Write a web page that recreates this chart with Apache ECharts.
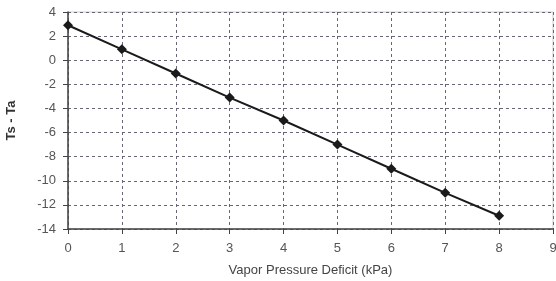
<!DOCTYPE html>
<html><head><meta charset="utf-8">
<script src="https://cdn.jsdelivr.net/npm/echarts@6/dist/echarts.min.js"></script>
<style>html,body{margin:0;padding:0;background:#fff}#c{width:556px;height:281px}</style>
</head><body><div id="c"></div>
<script>
const vpd = [0, 1, 2, 3, 4, 5, 6, 7, 8];
const tsTa = [2.9, 0.9, -1.1, -3.1, -5.0, -7.0, -9.0, -11.0, -12.9];
const xTitle = 'Vapor Pressure Deficit (kPa)';
const yTitle = 'Ts - Ta';

const chart = echarts.init(document.getElementById('c'));
const lbl = {color: '#555', fontSize: 13, fontFamily: 'Liberation Sans, Arial, sans-serif'};
chart.setOption({
  animation: false,
  grid: {left: 68, right: 3, top: 12, bottom: 52, show: true, borderColor: '#ccc', borderWidth: 1,
         containLabel: false, outerBoundsMode: 'none'},
  xAxis: {
    type: 'value', min: 0, max: 9, interval: 1,
    name: xTitle, nameLocation: 'middle', nameGap: 35,
    nameTextStyle: {color: '#444', fontSize: 13, fontFamily: 'Liberation Sans, Arial, sans-serif'},
    axisLine: {show: true, onZero: false, lineStyle: {color: '#444', width: 1.5}},
    axisTick: {show: true, length: 5, inside: false, lineStyle: {color: '#444'}},
    axisLabel: Object.assign({margin: 13}, lbl),
    splitLine: {show: true, lineStyle: {type: [3, 3], color: '#667', width: 1}}
  },
  yAxis: {
    type: 'value', min: -14, max: 4, interval: 2,
    name: yTitle, nameLocation: 'middle', nameGap: 50, nameRotate: 90,
    nameTextStyle: {color: '#333', fontSize: 13, fontWeight: 'bold', fontFamily: 'Liberation Sans, Arial, sans-serif'},
    axisLine: {show: true, onZero: false, lineStyle: {color: '#444', width: 1.5}},
    axisTick: {show: true, length: 5, lineStyle: {color: '#444'}},
    axisLabel: Object.assign({margin: 12}, lbl),
    splitLine: {show: true, lineStyle: {type: [3, 3], color: '#667', width: 1}}
  },
  series: [{
    type: 'line',
    data: vpd.map((x, i) => [x, tsTa[i]]),
    symbol: 'diamond', symbolSize: 10,
    lineStyle: {color: '#1a1a1a', width: 2},
    itemStyle: {color: '#1a1a1a'}
  }]
});
</script></body></html>
